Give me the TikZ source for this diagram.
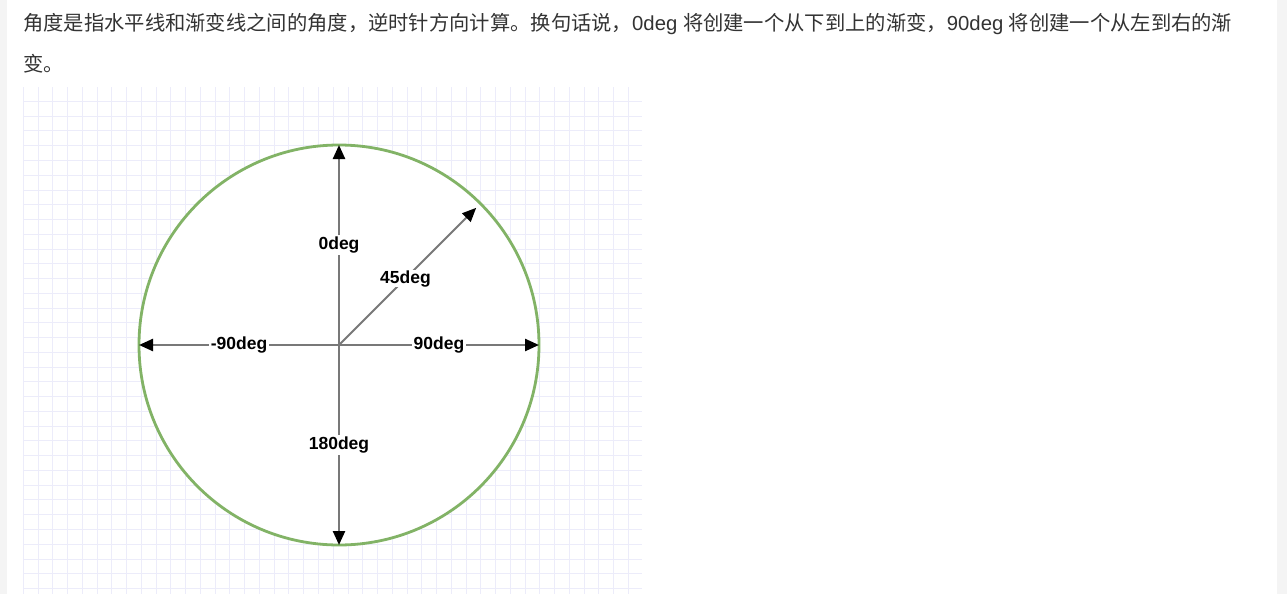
\documentclass[tikz,border=0pt]{standalone}
\usepackage{fontspec}
\setmainfont{Liberation Sans}
\newfontfamily\cjk{Noto Sans CJK SC}
\usetikzlibrary{arrows.meta}
\definecolor{gridc}{RGB}{236,236,250}
\definecolor{greenc}{RGB}{130,179,102}
\definecolor{arrowc}{RGB}{120,120,120}
\definecolor{textc}{RGB}{51,51,51}
\definecolor{sidec}{RGB}{244,244,244}
\tikzset{
  axis/.style={draw=arrowc, line width=2.4pt, -{Triangle[length=14pt,width=12pt,color=black]}},
  lbl/.style={fill=white, inner sep=1.5pt, font=\fontsize{17.5}{20}\selectfont\bfseries, text=black},
  para/.style={anchor=west, inner sep=0pt, text=textc, font=\fontsize{20.3}{24}\selectfont},
}
\begin{document}
\begin{tikzpicture}[x=1pt,y=-1pt]
\useasboundingbox (0,0) rectangle (1287,594);
\fill[white] (0,0) rectangle (1287,594);
\fill[sidec] (0,0) rectangle (7,594);
\fill[sidec] (1277,0) rectangle (1287,594);
% text
\node[para] (t1) at (23,24) {{\cjk 角度是指水平线和渐变线之间的角度，逆时针方向计算。换句话说，}0deg {\cjk 将创建一个从下到上的渐变，}90deg {\cjk 将创建一个从左到右的渐}};
\node[para] (t2) at (23,63.5) {\cjk 变。};
% grid
\begin{scope}
\clip (23,87) rectangle (642,594);
\foreach \i in {0,...,42} {
  \draw[gridc, line width=1pt] (23.3+14.76*\i,87) -- (23.3+14.76*\i,594);
}
\foreach \j in {0,...,35} {
  \draw[gridc, line width=1pt] (23,86.7+14.76*\j) -- (642,86.7+14.76*\j);
}
\end{scope}
% circle
\node[circle, draw=greenc, fill=white, line width=2.8pt, minimum size=400pt, inner sep=0pt, outer sep=0pt] (C) at (339,345) {};
\coordinate (O) at (339,345);
\draw[axis] (O) -- node[lbl] (l0) {0deg} (C.north);
\draw[axis] (O) -- node[lbl] (l180) {180deg} (C.south);
\draw[axis] (O) -- node[lbl] (lm90) {-90deg} (C.west);
\draw[axis] (O) -- node[lbl] (l90) {90deg} (C.east);
\draw[axis, line width=1.8pt, shorten >=6pt] (O) -- node[lbl, inner sep=0.5pt, pos=0.47] (l45) {45deg} (C.45);
\end{tikzpicture}
\end{document}
